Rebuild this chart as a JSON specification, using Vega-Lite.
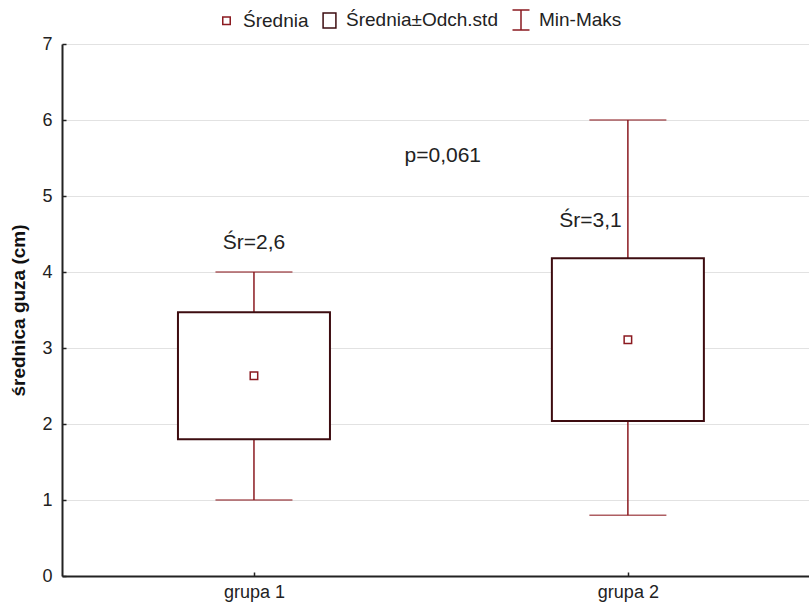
{
  "$schema": "https://vega.github.io/schema/vega-lite/v6.json",
  "width": 747,
  "height": 532,
  "autosize": {"type": "none"},
  "padding": {"left": 62, "top": 44, "right": 0, "bottom": 31},
  "background": "white",
  "config": {
    "font": "Liberation Sans",
    "view": {"stroke": null},
    "axis": {"labelFont": "Liberation Sans", "titleFont": "Liberation Sans", "labelColor": "#222", "titleColor": "#111"}
  },
  "datasets": {
    "stats": [
      {"grupa": 1, "srednia": 2.635, "dolny": 1.80, "gorny": 3.47, "min": 1.0, "max": 4.0, "seria": "Średnia"},
      {"grupa": 2, "srednia": 3.11, "dolny": 2.04, "gorny": 4.18, "min": 0.8, "max": 6.0, "seria": "Średnia"}
    ],
    "notes": [
      {"x": 1, "y": 4.38, "t": "Śr=2,6"},
      {"x": 1.9, "y": 4.67, "t": "Śr=3,1"},
      {"x": 1.505, "y": 5.53, "t": "p=0,061"}
    ]
  },
  "layer": [
    {
      "data": {"name": "stats"},
      "mark": {"type": "rule", "color": "#8b1a20", "strokeWidth": 1.5},
      "encoding": {
        "x": {
          "field": "grupa", "type": "quantitative",
          "scale": {"domain": [0.5, 2.471], "nice": false, "zero": false},
          "axis": {
            "values": [1, 2], "labelExpr": "'grupa ' + datum.value", "title": null,
            "grid": false, "domainColor": "#222", "domainWidth": 2,
            "tickColor": "#222", "tickSize": -4, "tickWidth": 1.5,
            "labelFontSize": 18, "labelPadding": 11
          }
        },
        "y": {
          "field": "min", "type": "quantitative",
          "scale": {"domain": [0, 7], "nice": false},
          "axis": {
            "values": [0, 1, 2, 3, 4, 5, 6, 7], "format": "d", "title": "średnica guza (cm)",
            "titleFontSize": 19, "titleFontWeight": "bold", "titlePadding": 13,
            "grid": true, "gridColor": "#e2e2e2", "gridWidth": 1,
            "domainColor": "#222", "domainWidth": 2,
            "tickColor": "#222", "tickSize": -4, "tickWidth": 1.5,
            "labelFontSize": 18, "labelPadding": 14
          }
        },
        "y2": {"field": "max"}
      }
    },
    {
      "data": {"name": "stats"},
      "mark": {"type": "tick", "orient": "horizontal", "size": 77, "thickness": 1.5, "color": "#8b1a20"},
      "encoding": {
        "x": {"field": "grupa", "type": "quantitative"},
        "y": {"field": "min", "type": "quantitative"}
      }
    },
    {
      "data": {"name": "stats"},
      "mark": {"type": "tick", "orient": "horizontal", "size": 77, "thickness": 1.5, "color": "#8b1a20"},
      "encoding": {
        "x": {"field": "grupa", "type": "quantitative"},
        "y": {"field": "max", "type": "quantitative"}
      }
    },
    {
      "data": {"name": "stats"},
      "mark": {"type": "bar", "width": 152, "fill": "white", "stroke": "#3d0c10", "strokeWidth": 2},
      "encoding": {
        "x": {"field": "grupa", "type": "quantitative"},
        "y": {"field": "dolny", "type": "quantitative"},
        "y2": {"field": "gorny"}
      }
    },
    {
      "data": {"name": "stats"},
      "mark": {"type": "point", "filled": false, "fill": "white", "strokeWidth": 1.5, "opacity": 1},
      "encoding": {
        "x": {"field": "grupa", "type": "quantitative"},
        "y": {"field": "srednia", "type": "quantitative"},
        "shape": {
          "field": "seria", "type": "nominal",
          "scale": {
            "domain": ["Średnia", "Średnia±Odch.std", "Min-Maks"],
            "range": ["square", "M-0.85,-1H0.85V1H-0.85Z", "M-0.85,-1H0.85M0,-1V1M-0.85,1H0.85"]
          },
          "legend": {
            "title": null, "orient": "none", "legendX": 155, "legendY": -35,
            "direction": "horizontal", "labelFontSize": 19, "labelColor": "#222",
            "labelFont": "Liberation Sans", "symbolStrokeWidth": 1.5, "labelOffset": 7,
            "columnPadding": 11, "symbolFillColor": "white"
          }
        },
        "stroke": {
          "field": "seria", "type": "nominal",
          "scale": {
            "domain": ["Średnia", "Średnia±Odch.std", "Min-Maks"],
            "range": ["#8b1a20", "#3d0c10", "#8b1a20"]
          }
        },
        "size": {
          "field": "seria", "type": "nominal",
          "scale": {
            "domain": ["Średnia", "Średnia±Odch.std", "Min-Maks"],
            "range": [56, 400, 400]
          }
        }
      }
    },
    {
      "data": {"name": "notes"},
      "mark": {"type": "text", "fontSize": 21, "color": "#222", "baseline": "middle", "align": "center"},
      "encoding": {
        "x": {"field": "x", "type": "quantitative"},
        "y": {"field": "y", "type": "quantitative"},
        "text": {"field": "t"}
      }
    },
    {
      "mark": {"type": "rule", "color": "#222", "strokeWidth": 2},
      "encoding": {"y": {"datum": 7}}
    }
  ]
}
